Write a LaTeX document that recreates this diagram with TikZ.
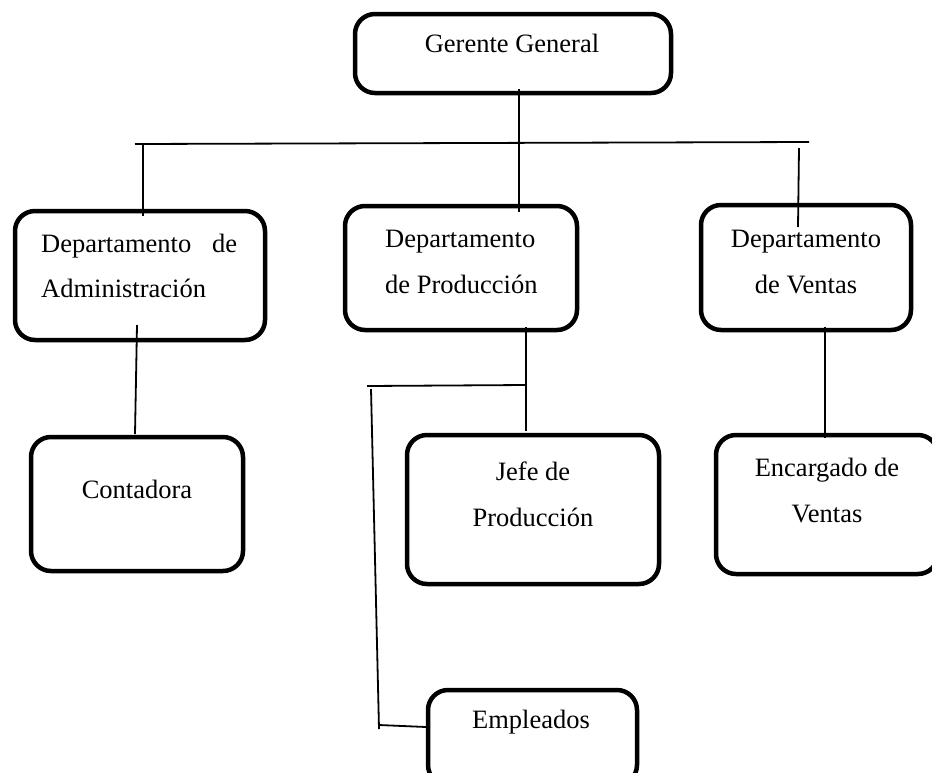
\documentclass[tikz,border=0pt]{standalone}
\usepackage{fontspec}
\setmainfont{Liberation Serif}
\begin{document}
\begin{tikzpicture}[x=1pt,y=-1pt,
  box/.style={draw, line width=4.5pt, rounded corners=20pt, inner sep=0pt},
  conn/.style={line width=1.8pt},
  txt/.style={inner sep=0pt, anchor=base, font=\fontsize{26.5}{30}\selectfont}]
\useasboundingbox (0,0) rectangle (932,772);
\clip (0,0) rectangle (932,772);
% boxes
\node[box, minimum width=316pt, minimum height=79pt] (ger) at (513,53.5) {};
\node[box, minimum width=250pt, minimum height=129pt] (adm) at (140,275.5) {};
\node[box, minimum width=232pt, minimum height=124pt] (prod) at (461,268) {};
\node[box, minimum width=210pt, minimum height=125pt] (ven) at (806,267.5) {};
\node[box, minimum width=212pt, minimum height=134pt] (cont) at (137,504) {};
\node[box, minimum width=252pt, minimum height=149pt] (jefe) at (533,509.5) {};
\node[box, minimum width=222pt, minimum height=139pt] (enc) at (827,504.5) {};
\node[box, minimum width=209pt, minimum height=95pt] (emp) at (532.5,737.5) {};
% texts
\node[txt] (tger) at (512,52) {Gerente General};
\node[txt, anchor=base west] (tadm1) at (41,252) {\makebox[196pt][s]{Departamento de}};
\node[txt, anchor=base west] (tadm2) at (41,297) {Administración};
\node[txt, anchor=base west] (tprod1) at (385,247) {Departamento};
\node[txt, anchor=base west] (tprod2) at (385,293) {de Producción};
\node[txt] (tven1) at (806,247) {Departamento};
\node[txt] (tven2) at (806,293) {de Ventas};
\node[txt] (tcont) at (137,498) {Contadora};
\node[txt] (tjefe1) at (533,480) {Jefe de};
\node[txt] (tjefe2) at (533,526) {Producción};
\node[txt] (tenc1) at (827,476) {Encargado de};
\node[txt] (tenc2) at (827,522) {Ventas};
\node[txt] (temp) at (531,728) {Empleados};
% connector points
\coordinate (g1) at (519,89);
\coordinate (g2) at (519,212);
\coordinate (busL) at (135,144);
\coordinate (busR) at (809,142);
\coordinate (a1) at (143,144);
\coordinate (a2) at (143,216);
\coordinate (v1) at (799,148);
\coordinate (v2) at (798,227);
\coordinate (ac1) at (137,325);
\coordinate (ac2) at (135,434);
\coordinate (pj1) at (526,327);
\coordinate (pj2) at (526,431);
\coordinate (pb) at (367,386);
\coordinate (pbr) at (526,385);
\coordinate (e1) at (371,389);
\coordinate (e2) at (379,729);
\coordinate (e3) at (379,725);
\coordinate (e4) at (426,727);
\coordinate (ve1) at (825,327);
\coordinate (ve2) at (825,438);
% connectors
\draw[conn] (g1) -- (g2);
\draw[conn] (busL) -- (busR);
\draw[conn] (a1) -- (a2);
\draw[conn] (v1) -- (v2);
\draw[conn] (ac1) -- (ac2);
\draw[conn] (pj1) -- (pj2);
\draw[conn] (pb) -- (pbr);
\draw[conn] (e1) -- (e2);
\draw[conn] (e3) -- (e4);
\draw[conn] (ve1) -- (ve2);
\end{tikzpicture}
\end{document}
